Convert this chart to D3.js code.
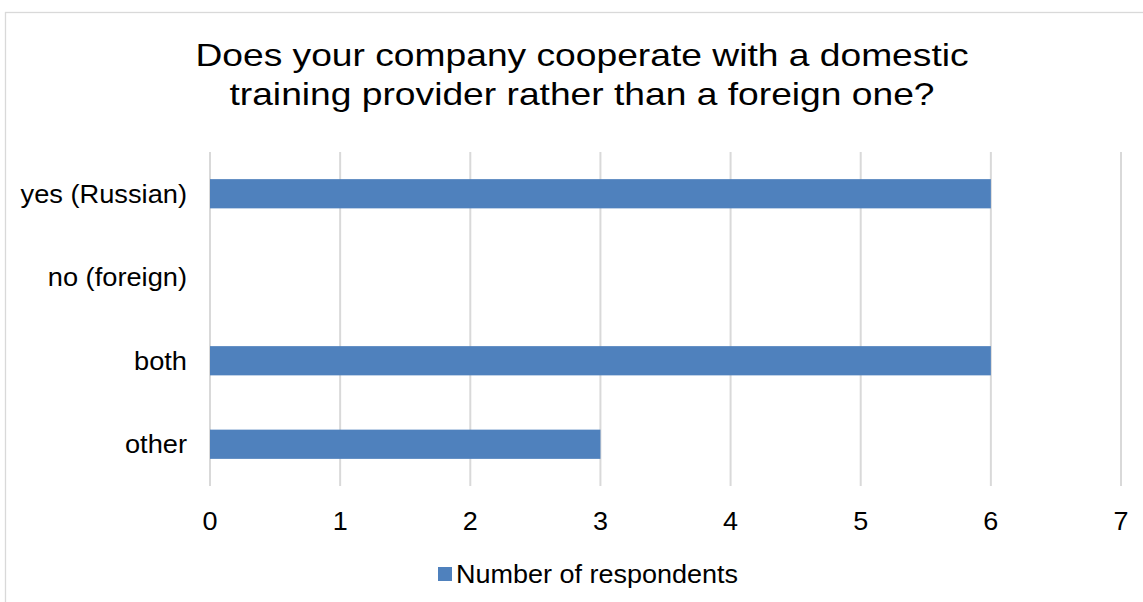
<!DOCTYPE html>
<html>
<head>
<meta charset="utf-8">
<script src="https://cdn.jsdelivr.net/npm/d3@7"></script>
<style>
  html, body { margin: 0; padding: 0; background: #fff; }
  svg { display: block; font-family: "Liberation Sans", Arial, sans-serif; }
</style>
</head>
<body>
<svg id="chart" width="1143" height="602"></svg>
<script>
// Survey answers and their counts
const categories = ["yes (Russian)", "no (foreign)", "both", "other"];
const respondents = [6, 0, 6, 3];
const xTicks = [0, 1, 2, 3, 4, 5, 6, 7];
const titleLines = [
  "Does your company cooperate with a domestic",
  "training provider rather than a foreign one?"
];
const seriesName = "Number of respondents";

const svg = d3.select("#chart");
const barColor = "#4F81BD";
const gridColor = "#d9d9d9";

// Text in this chart is set slightly wide; place each label at (x, y) and stretch it horizontally.
function placeWide(sel, xf, yf, sx) {
  sel.attr("transform", (d, i) => `translate(${xf(d, i)},${yf(d, i)}) scale(${sx},1)`);
}

// Chart frame
svg.append("rect")
  .attr("x", 5.5).attr("y", 12.5)
  .attr("width", 1160).attr("height", 620)
  .attr("fill", "#fff")
  .attr("stroke", gridColor).attr("stroke-width", 1.3);

// Title
svg.append("g").selectAll("text")
  .data(titleLines)
  .join("text")
  .attr("text-anchor", "middle")
  .attr("font-size", 31)
  .attr("fill", "#000")
  .text(d => d)
  .call(placeWide, () => 582, (d, i) => 66 + i * 39, 1.2);

const plot = { left: 210, right: 1121, top: 152, bottom: 486 };

const x = d3.scaleLinear()
  .domain([0, 7])
  .range([plot.left, plot.right]);

const y = d3.scaleBand()
  .domain(categories)
  .range([plot.top, plot.bottom])
  .paddingInner(0.65)
  .paddingOuter(0.325);

// Vertical gridlines
svg.append("g").selectAll("line")
  .data(xTicks)
  .join("line")
  .attr("x1", d => x(d)).attr("x2", d => x(d))
  .attr("y1", plot.top).attr("y2", plot.bottom)
  .attr("stroke", gridColor).attr("stroke-width", 2);

// Bars
svg.append("g").selectAll("rect")
  .data(categories.map((c, i) => ({ c, v: respondents[i] })).filter(d => d.v > 0))
  .join("rect")
  .attr("x", x(0))
  .attr("y", d => y(d.c))
  .attr("width", d => x(d.v) - x(0))
  .attr("height", y.bandwidth())
  .attr("fill", barColor);

// Value axis labels
svg.append("g").selectAll("text")
  .data(xTicks)
  .join("text")
  .attr("text-anchor", "middle")
  .attr("dy", "0.35em")
  .attr("font-size", 25)
  .attr("fill", "#000")
  .text(d3.format("d"))
  .call(placeWide, d => x(d), () => 521, 1.08);

// Category axis labels
svg.append("g").selectAll("text")
  .data(categories)
  .join("text")
  .attr("text-anchor", "end")
  .attr("dy", "0.35em")
  .attr("font-size", 25)
  .attr("fill", "#000")
  .text(d => d)
  .call(placeWide, () => 187, d => y(d) + y.bandwidth() / 2, 1.09);

// Legend
const legend = svg.append("g").attr("transform", "translate(438, 567)");
legend.append("rect")
  .attr("width", 14).attr("height", 14)
  .attr("fill", barColor);
legend.append("text")
  .datum(seriesName)
  .attr("dy", "0.35em")
  .attr("font-size", 25)
  .attr("fill", "#000")
  .text(d => d)
  .call(placeWide, () => 18, () => 7, 1.08);
</script>
</body>
</html>
